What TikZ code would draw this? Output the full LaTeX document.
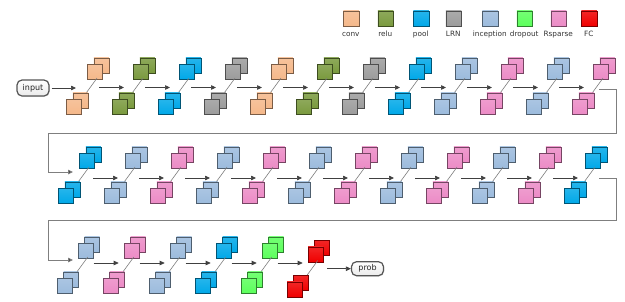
\documentclass[tikz,border=0pt]{standalone}
\usepackage{fontspec}
\newfontfamily\lfont{DejaVu Sans}
\usetikzlibrary{arrows.meta,calc,shadows}
\definecolor{cConv}{HTML}{F5B88A}
\definecolor{cRelu}{HTML}{7A9A3E}
\definecolor{cPool}{HTML}{00A8E8}
\definecolor{cLRN}{HTML}{9C9C9C}
\definecolor{cIncep}{HTML}{9CBBDD}
\definecolor{cDrop}{HTML}{5CFF5C}
\definecolor{cRsp}{HTML}{EC8BC6}
\definecolor{cFC}{HTML}{F00000}
\definecolor{cEdge}{HTML}{555555}
\definecolor{cLine}{HTML}{7F7F7F}
\definecolor{cArr}{HTML}{404040}
\newcommand\unitblk[5]{%
  \node[sq=#4] (tb#1) at (#2+6.5+21,#3-6.5-35) {};
  \node[sq=#4] (tf#1) at (#2+21,#3-35) {};
  \node[sq=#4] (bb#1) at (#2+6.5,#3-6.5) {};
  \node[sq=#4] (bf#1) at (#2,#3) {};
  \draw[link] ($(bb#1.north west)+(14,0)$) -- ($(tf#1.south west)+(10,-1.5)$);
  \coordinate (i#1) at (#2+\inoff,#5);
  \coordinate (o#1) at (#2+\outoff,#5);
}
\begin{document}
\begin{tikzpicture}[x=1pt,y=-1pt,
  sq/.style={draw=#1!50!black, line width=0.6pt, top color=#1!85!white, bottom color=#1,
    minimum size=15pt, inner sep=0pt, anchor=north west,
    drop shadow={shadow xshift=0.9pt,shadow yshift=-0.9pt,opacity=0.25}},
  lgsq/.style={sq=#1, minimum size=15.5pt},
  lbl/.style={font=\lfont\fontsize{7.3}{8}\selectfont, text=black!80, anchor=base, inner sep=0pt},
  term/.style={draw=cEdge, line width=1.2pt, rounded corners=5pt, top color=white, bottom color=black!8,
    minimum width=32pt, inner sep=0pt, font=\lfont\fontsize{8}{9}\selectfont, text=black!85,
    drop shadow={shadow xshift=0.8pt,shadow yshift=-0.8pt,opacity=0.2}},
  link/.style={draw=cLine, line width=0.6pt},
  arr/.style={draw=cArr, line width=0.7pt, -{Triangle[length=5pt,width=4.5pt]}},
  loopline/.style={draw=cLine, line width=0.8pt, -{Triangle[length=5pt,width=4.5pt,fill=cArr]}}]
\useasboundingbox (0,0) rectangle (625,301);
\fill[white] (0,0) rectangle (625,301);
% legend
\foreach \c/\t/\x in {cConv/conv/343,cRelu/relu/377.5,cPool/pool/413,cLRN/LRN/445.5,cIncep/inception/482,cDrop/dropout/516.5,cRsp/Rsparse/550.5,cFC/FC/581}{
  \node[lgsq=\c] (lg\t) at (\x,10.5) {};
  \node[lbl] (lt\t) at (\x+7.75,36) {\t};
}
% terminals
\node[term, minimum height=16pt] (input) at (33,88) {input};
\node[term, minimum height=14pt] (prob) at (367.5,268.7) {prob};
% row 1
\def\inoff{12}\def\outoff{33}
\foreach \c [count=\k from 0] in {cConv,cRelu,cPool,cLRN,cConv,cRelu,cLRN,cPool,cIncep,cRsp,cIncep,cRsp}{
  \unitblk{a\k}{66+46*\k}{99}{\c}{87.5}
}
% row 2
\def\inoff{14}\def\outoff{35}
\foreach \c [count=\k from 0] in {cPool,cIncep,cRsp,cIncep,cRsp,cIncep,cRsp,cIncep,cRsp,cIncep,cRsp,cPool}{
  \unitblk{b\k}{58+46*\k}{188}{\c}{178}
}
% row 3
\def\inoff{16}\def\outoff{37}
\foreach \c [count=\k from 0] in {cIncep,cRsp,cIncep,cPool,cDrop}{
  \unitblk{c\k}{56.7+46*\k}{278}{\c}{263}
}
\unitblk{c5}{286.7}{281.5}{cFC}{263}
% arrows within rows
\foreach \k [evaluate=\k as \j using int(\k+1)] in {0,...,10}{
  \draw[arr] (oa\k) -- (ia\j);
  \draw[arr] (ob\k) -- (ib\j);
}
\foreach \k [evaluate=\k as \j using int(\k+1)] in {0,...,4}{
  \draw[arr] (oc\k) -- (ic\j);
}
% entry / exit
\coordinate (in1) at (76,88);
\draw[arr, shorten <=2pt] (input.east) -- (in1);
\coordinate (r1e) at (599,89);
\coordinate (r2in) at (73,172);
\draw[loopline] (r1e) -- (616,89) |- (48,133) |- (r2in);
\coordinate (r2e) at (599,178);
\coordinate (r3in) at (73,260);
\draw[loopline] (r2e) -- (616,178) |- (48,220) |- (r3in);
\coordinate (fcout) at (327,268.7);
\draw[arr] (fcout) -- (prob.west);
\end{tikzpicture}
\end{document}
